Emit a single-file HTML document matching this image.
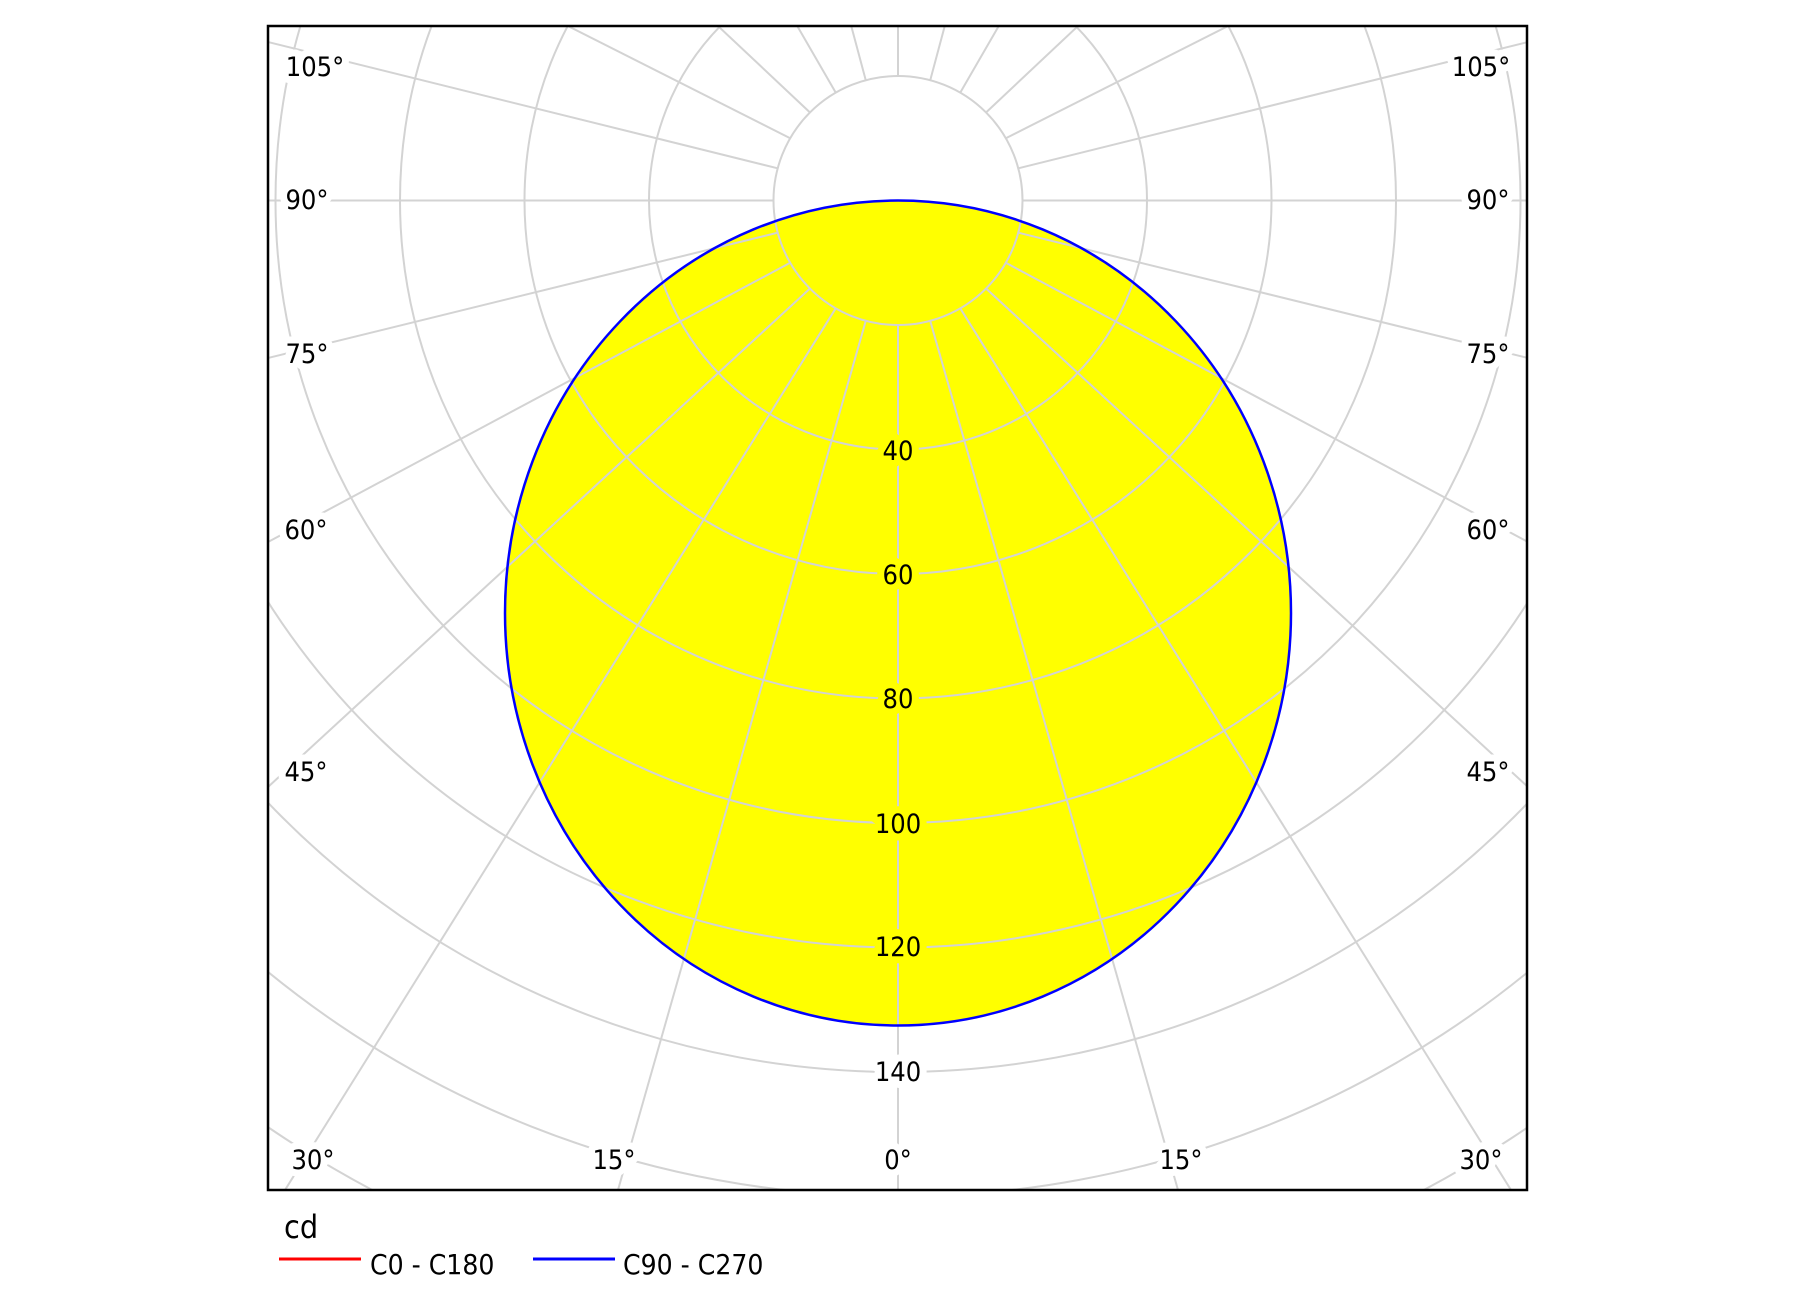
<!DOCTYPE html>
<html><head><meta charset="utf-8"><style>
html,body{margin:0;padding:0;background:#fff;overflow:hidden;width:1794px;height:1300px;}
svg{display:block;}
text{font-family:"DejaVu Sans Condensed","Liberation Sans",sans-serif;}
</style></head><body>
<svg width="1794" height="1300" viewBox="0 0 1794 1300" xmlns="http://www.w3.org/2000/svg">
<defs><clipPath id="c"><rect x="268" y="26" width="1259" height="1164"/></clipPath></defs>
<g clip-path="url(#c)">
<ellipse cx="898" cy="613" rx="393" ry="412.5" fill="#ffff00"/>
<g fill="none" stroke="#d3d3d3" stroke-width="2">
<circle cx="898" cy="200.5" r="124.5"/>
<circle cx="898" cy="200.5" r="249"/>
<circle cx="898" cy="200.5" r="373.5"/>
<circle cx="898" cy="200.5" r="498"/>
<circle cx="898" cy="200.5" r="622.5"/>
<circle cx="898" cy="200.5" r="747"/>
<circle cx="898" cy="200.5" r="871.5"/>
<circle cx="898" cy="200.5" r="996"/>
<circle cx="898" cy="200.5" r="1120.5"/>
<circle cx="898" cy="200.5" r="1245"/>
<circle cx="898" cy="200.5" r="1369.5"/>
<line x1="898" y1="325" x2="898" y2="1300"/>
<line x1="773.5" y1="200.5" x2="0" y2="200.5"/>
<line x1="1022.5" y1="200.5" x2="1794" y2="200.5"/>
<line x1="898" y1="76" x2="898" y2="0"/>
<line x1="865.8" y1="320.8" x2="370.2" y2="2059.2"/>
<line x1="930.2" y1="320.8" x2="1425.8" y2="2059.2"/>
<line x1="835.75" y1="308.3" x2="-265.75" y2="2071.7"/>
<line x1="960.25" y1="308.3" x2="2061.75" y2="2071.7"/>
<line x1="810" y1="288.5" x2="-274" y2="1285.5"/>
<line x1="986" y1="288.5" x2="2070" y2="1285.5"/>
<line x1="790.2" y1="262.75" x2="-254.2" y2="821.25"/>
<line x1="1005.8" y1="262.75" x2="2050.2" y2="821.25"/>
<line x1="777.7" y1="232.7" x2="-241.7" y2="483.3"/>
<line x1="1018.3" y1="232.7" x2="2037.7" y2="483.3"/>
<line x1="777.7" y1="168.3" x2="-241.7" y2="-84.3"/>
<line x1="1018.3" y1="168.3" x2="2037.7" y2="-84.3"/>
<line x1="790.2" y1="138.25" x2="123.4" y2="-198.5"/>
<line x1="1005.8" y1="138.25" x2="1672.6" y2="-198.5"/>
<line x1="810" y1="112.5" x2="534" y2="-147"/>
<line x1="986" y1="112.5" x2="1262" y2="-147"/>
<g transform="translate(898,200.5)">
<line x1="0" y1="124.5" x2="0" y2="1700" transform="rotate(150)"/>
<line x1="0" y1="124.5" x2="0" y2="1700" transform="rotate(165)"/>
<line x1="0" y1="124.5" x2="0" y2="1700" transform="rotate(-150)"/>
<line x1="0" y1="124.5" x2="0" y2="1700" transform="rotate(-165)"/>
</g>
</g>
<ellipse cx="898" cy="613" rx="393" ry="412.5" fill="none" stroke="#0000ff" stroke-width="2.5"/>
<g font-size="27" fill="#000" text-anchor="middle" paint-order="stroke" stroke-width="14" stroke-linejoin="round">
<text x="898" y="460" stroke="#ffff00">40</text>
<text x="898" y="584" stroke="#ffff00">60</text>
<text x="898" y="708" stroke="#ffff00">80</text>
<text x="898" y="833" stroke="#ffff00">100</text>
<text x="898" y="956" stroke="#ffff00">120</text>
<text x="898" y="1081" stroke="#fff">140</text>
<g stroke="#fff">
<text x="315" y="76">105°</text>
<text x="307" y="209">90°</text>
<text x="307" y="363">75°</text>
<text x="306" y="539">60°</text>
<text x="306" y="781">45°</text>
<text x="313" y="1169">30°</text>
<text x="614" y="1169">15°</text>
<text x="898" y="1169">0°</text>
<text x="1181" y="1169">15°</text>
<text x="1481" y="1169">30°</text>
<text x="1488" y="781">45°</text>
<text x="1488" y="539">60°</text>
<text x="1488" y="363">75°</text>
<text x="1488" y="209">90°</text>
<text x="1481" y="76">105°</text>
</g>
</g>
</g>
<rect x="268" y="26" width="1259" height="1164" fill="none" stroke="#000" stroke-width="2.5"/>
<text x="284" y="1238" font-size="32" fill="#000">cd</text>
<line x1="279" y1="1259" x2="361" y2="1259" stroke="#ff0000" stroke-width="3"/>
<text x="370" y="1274" font-size="28" fill="#000">C0 - C180</text>
<line x1="533" y1="1259" x2="615" y2="1259" stroke="#0000ff" stroke-width="3"/>
<text x="623" y="1274" font-size="28" fill="#000">C90 - C270</text>
</svg>
</body></html>
